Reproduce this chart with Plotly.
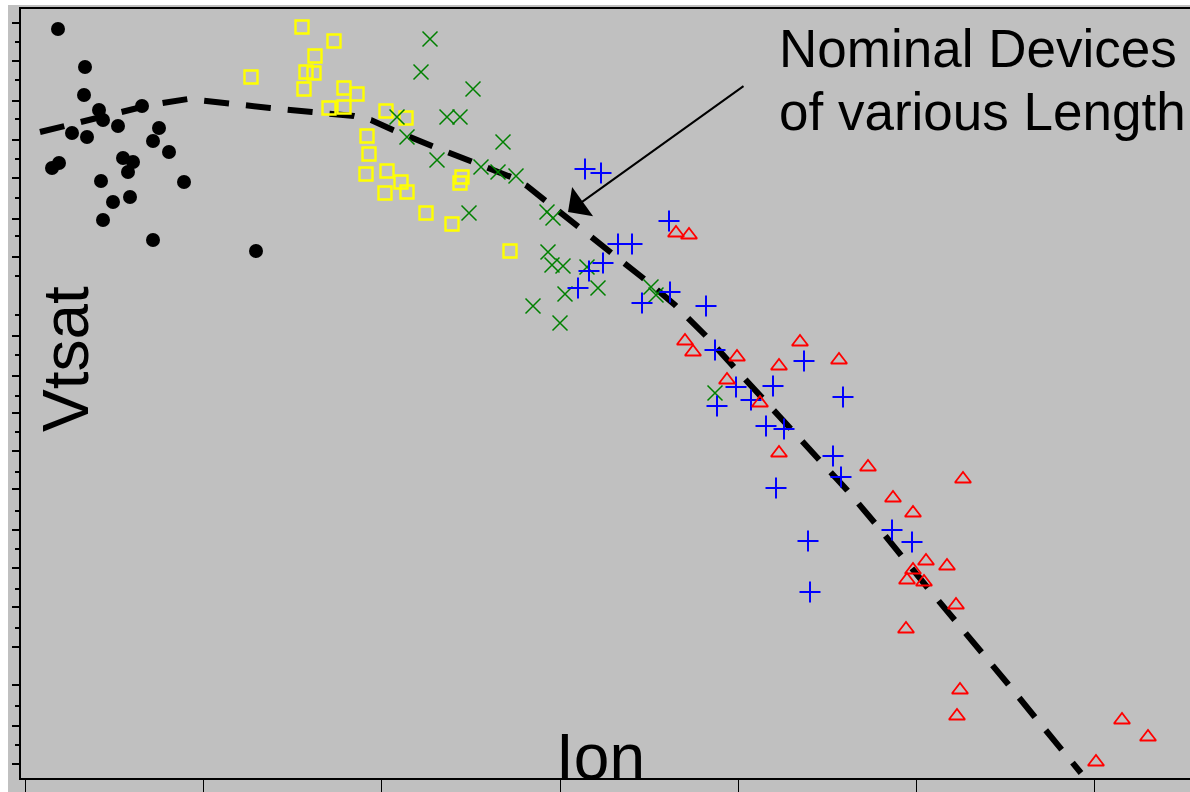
import plotly.graph_objects as go

# Values (arbitrary units: Ion along x, Vtsat along y)
black_ion = [33, 60, 59, 74, 78, 47, 62, 93, 117, 134, 128, 144, 27, 34, 98, 108, 103, 159, 76, 88, 105, 78, 128, 231]
black_vt = [735, 697, 669, 654, 644, 631, 627, 638, 658, 636, 623, 612, 596, 601, 606, 602, 592, 582, 583, 562, 567, 544, 524, 513]

yellow_ion = [277, 309, 290, 281, 289, 226, 279, 319, 332, 304, 319, 361, 381, 342, 344, 341, 362, 376, 382, 360, 437, 435, 401, 427, 485]
yellow_vt = [737, 723, 708, 692, 691, 687, 675, 676, 670, 656, 657, 653, 646, 628, 610, 590, 593, 582, 572, 571, 587, 581, 551, 540, 513]

green_ion = [405, 396, 448, 422, 435, 372, 382, 478, 412, 456, 473, 491, 444, 522, 528, 523, 527, 538, 562, 540, 573, 508, 535, 626, 631, 690]
green_vt = [725, 692, 675, 647, 647, 647, 627, 622, 604, 597, 592, 588, 551, 552, 546, 512, 499, 498, 497, 470, 476, 458, 441, 477, 469, 371]

blue_ion = [560, 576, 644, 593, 607, 578, 564, 553, 645, 617, 681, 690, 779, 711, 748, 818, 692, 726, 741, 759, 808, 816, 751, 783, 867, 887, 785]
blue_vt = [595, 591, 543, 520, 520, 501, 493, 476, 472, 461, 458, 414, 403, 377, 378, 367, 358, 364, 338, 335, 308, 287, 276, 223, 234, 222, 172]

red_ion = [651, 664, 660, 668, 775, 712, 754, 814, 702, 735, 754, 843, 938, 868, 888, 901, 922, 888, 882, 899, 931, 881, 935, 932, 1097, 1123, 1071]
red_vt = [531, 529, 423, 412, 422, 407, 398, 404, 384, 361, 311, 297, 285, 266, 251, 203, 198, 194, 184, 182, 159, 135, 74, 48, 44, 27, 2]

nominal_ion = [15, 75, 125, 163, 180, 205, 245, 287, 329, 346, 368, 407, 447, 486, 502, 520, 553, 585, 618,
               650, 680, 708, 737, 765, 793, 822, 849, 876, 902, 928, 956, 983, 1009, 1036, 1056]
nominal_vt = [632, 647, 659, 665, 663, 660, 656, 652, 648, 644, 634, 618, 602, 587, 578, 564, 538, 512, 486,
              459, 429, 398, 367, 337, 305, 274, 242, 210, 177, 146, 113, 80, 48, 15, -9]

x_ticks = [0, 178, 356, 535, 713, 891, 1069]
y_major = [0, 38, 79, 117, 157, 196, 234, 275, 313, 351, 388, 428, 507, 545, 586, 624, 663, 703, 741]
y_minor = [19, 58, 136, 175, 215, 253, 292, 332, 368, 409, 449, 488, 528, 566, 605, 645, 684, 722]

GRAY = "#C0C0C0"
FONT = "Liberation Sans, Arial, sans-serif"

fig = go.Figure()
fig.add_trace(go.Scatter(x=nominal_ion, y=nominal_vt, mode="lines",
                         line=dict(color="black", width=6, dash="25px,17px"), cliponaxis=False))
fig.add_trace(go.Scatter(x=black_ion, y=black_vt, mode="markers",
                         marker=dict(symbol="circle", size=14, color="black", line=dict(width=0))))
fig.add_trace(go.Scatter(x=yellow_ion, y=yellow_vt, mode="markers",
                         marker=dict(symbol="square-open", size=13, color="#FFFF00", line=dict(width=2.4, color="#FFFF00"))))
fig.add_trace(go.Scatter(x=green_ion, y=green_vt, mode="markers",
                         marker=dict(symbol="x-thin-open", size=15, color="#008000", line=dict(width=1.5, color="#008000"))))
fig.add_trace(go.Scatter(x=blue_ion, y=blue_vt, mode="markers",
                         marker=dict(symbol="cross-thin-open", size=15, color="#0000FF", line=dict(width=2, color="#0000FF"))))
fig.add_trace(go.Scatter(x=red_ion, y=red_vt, mode="markers",
                         marker=dict(symbol="triangle-up-open", size=14, color="#FF0000", line=dict(width=1.8, color="#FF0000"))))

fig.update_layout(
    width=1190, height=792,
    margin=dict(l=21, r=0, t=9, b=14),
    paper_bgcolor=GRAY, plot_bgcolor=GRAY,
    showlegend=False,
    font=dict(family=FONT, color="black"),
    xaxis=dict(range=[-4, 1165], showgrid=False, zeroline=False, showline=True, linecolor="black",
               linewidth=2, mirror=True, tickvals=x_ticks, ticks="outside", ticklen=14, tickwidth=1.2,
               tickcolor="black", showticklabels=False),
    yaxis=dict(range=[-14, 755], showgrid=False, zeroline=False, showline=True, linecolor="black",
               linewidth=2, tickvals=y_major, ticks="outside", ticklen=7, tickwidth=2, tickcolor="black",
               showticklabels=False,
               minor=dict(tickvals=y_minor, ticks="outside", ticklen=4, tickwidth=2, tickcolor="black",
                          showgrid=False)),
    annotations=[
        dict(x=41, y=405, xref="x", yref="y", text="Vtsat", textangle=-90, showarrow=False,
             xanchor="center", yanchor="middle", font=dict(size=64, family=FONT, color="black")),
        dict(x=575, y=7, xref="x", yref="y", text="Ion", showarrow=False,
             xanchor="center", yanchor="middle", font=dict(size=64, family=FONT, color="black")),
        dict(x=752, y=716, xref="x", yref="y", text="Nominal Devices", showarrow=False,
             xanchor="left", yanchor="middle", font=dict(size=53, family=FONT, color="black")),
        dict(x=752, y=653, xref="x", yref="y", text="of various Length", showarrow=False,
             xanchor="left", yanchor="middle", font=dict(size=53, family=FONT, color="black")),
        dict(x=543, y=552, xref="x", yref="y", ax=720, ay=679, axref="x", ayref="y", text="",
             showarrow=True, arrowhead=1, arrowsize=3, arrowwidth=2, arrowcolor="black", standoff=0),
    ],
    shapes=[
        dict(type="rect", xref="paper", yref="paper", x0=-0.03, x1=(8 - 21) / 1169, y0=-0.1, y1=1.1,
             fillcolor="white", line=dict(width=0), layer="above"),
        dict(type="rect", xref="paper", yref="paper", x0=-0.03, x1=1.05, y0=(778 - 5) / 769, y1=1.1,
             fillcolor="white", line=dict(width=0), layer="above"),
    ],
)

fig.write_html("out.html")
